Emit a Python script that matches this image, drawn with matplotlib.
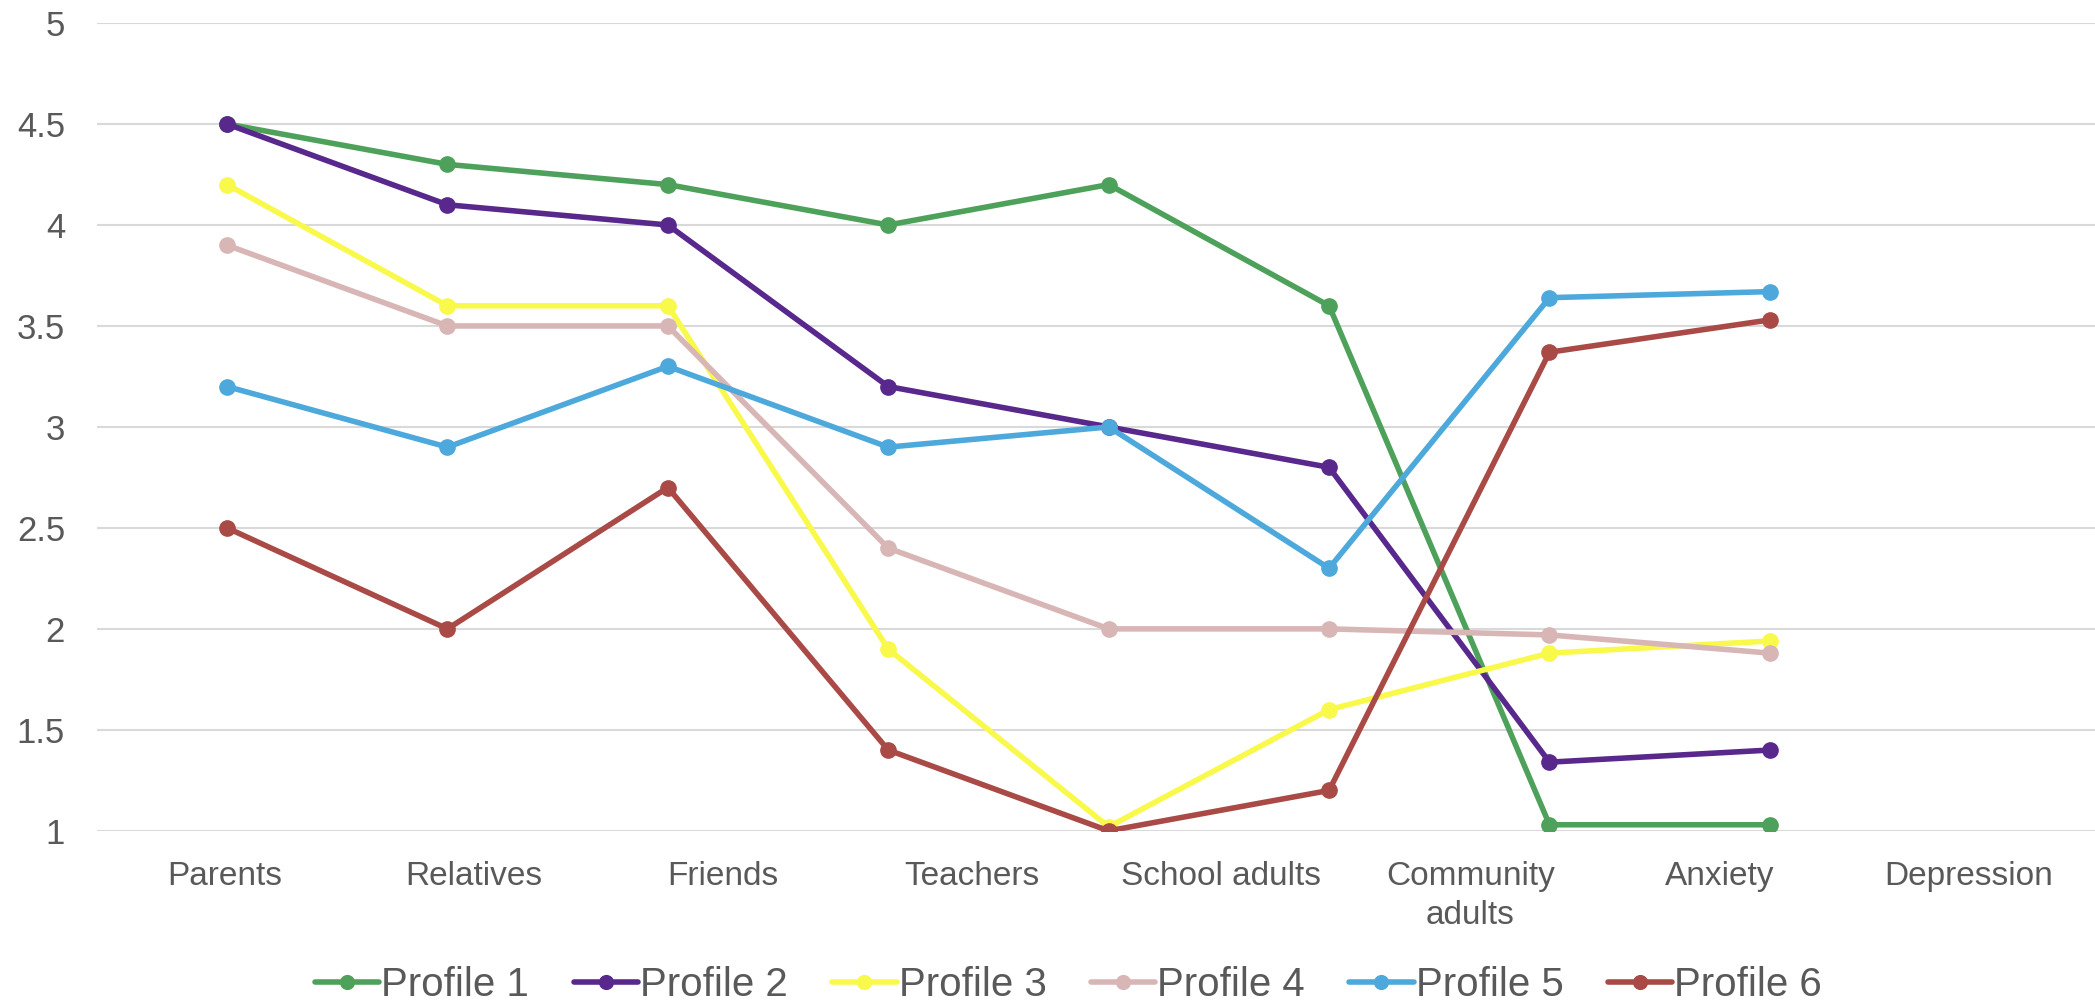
import matplotlib
matplotlib.use("Agg")
import matplotlib.pyplot as plt

categories = ["Parents", "Relatives", "Friends", "Teachers", "School adults",
              "Community\nadults", "Anxiety", "Depression"]
profile_names = ["Profile 1", "Profile 2", "Profile 3", "Profile 4", "Profile 5", "Profile 6"]
profile1 = [4.5, 4.3, 4.2, 4.0, 4.2, 3.6, 1.03, 1.03]
profile2 = [4.5, 4.1, 4.0, 3.2, 3.0, 2.8, 1.34, 1.40]
profile3 = [4.2, 3.6, 3.6, 1.9, 1.02, 1.6, 1.88, 1.94]
profile4 = [3.9, 3.5, 3.5, 2.4, 2.0, 2.0, 1.97, 1.88]
profile5 = [3.2, 2.9, 3.3, 2.9, 3.0, 2.3, 3.64, 3.67]
profile6 = [2.5, 2.0, 2.7, 1.4, 1.0, 1.2, 3.37, 3.53]
colors = ["#4EA15A", "#58288C", "#F9F94C", "#D8B6B6", "#4DA9DB", "#A94A46"]
yticks = [1, 1.5, 2, 2.5, 3, 3.5, 4, 4.5, 5]
ytick_labels = ["1", "1.5", "2", "2.5", "3", "3.5", "4", "4.5", "5"]

plt.rcParams['font.family'] = ['Liberation Sans', 'DejaVu Sans']

fig = plt.figure(figsize=(20.95, 10.01), dpi=100)
ax = fig.add_axes([0.0463, 0.170, 0.9537, 0.807])

series = [profile1, profile2, profile3, profile4, profile5, profile6]
x = list(range(len(categories)))
for name, vals, c in zip(profile_names, series, colors):
    ax.plot(x, vals, color=c, lw=4, marker='o', markersize=11, label=name,
            solid_capstyle='round')

ax.set_ylim(1, 5)
ax.set_xlim(-0.590, 8.475)
ax.set_yticks(yticks)
ax.set_yticklabels(ytick_labels)
ax.set_xticks(x)
ax.set_xticklabels([])
ax.tick_params(axis='both', length=0, colors="#595959", labelsize=25)
ax.tick_params(axis='y', pad=23)
ax.grid(axis='y', color="#D9D9D9", lw=1.5)
ax.set_axisbelow(True)
for s in ax.spines.values():
    s.set_visible(False)

# category labels (placed on their own scale, as in the reference image)
ax2 = ax.twiny()
ax2.set_xlim(-0.512, 7.506)
ax2.set_xticks(x)
ax2.set_xticklabels(categories, linespacing=1.3)
ax2.xaxis.set_ticks_position('bottom')
ax2.tick_params(axis='x', length=0, colors="#595959", labelsize=24, pad=22)
for s in ax2.spines.values():
    s.set_visible(False)

leg = ax.legend(loc='center', bbox_to_anchor=(0.510, 0.016), bbox_transform=fig.transFigure,
                ncol=6, frameon=False, fontsize=29, handlelength=1.6, columnspacing=1.1,
                handletextpad=0.05, labelcolor="#595959", markerscale=0.9)

fig.savefig("out.png", dpi=100, facecolor="white")
